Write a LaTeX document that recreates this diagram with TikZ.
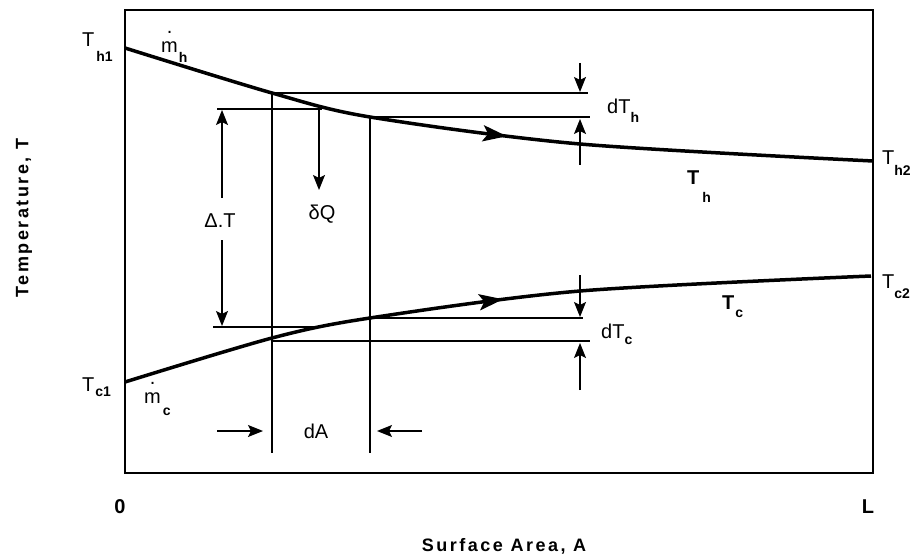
\documentclass[tikz,border=0pt]{standalone}
\usepackage{fontspec}
\setmainfont{Liberation Sans}
\usetikzlibrary{arrows.meta,decorations.markings}
\newcommand\sbs[2][10pt]{\raisebox{-#1}{\fontsize{14}{14}\selectfont\bfseries #2}}
\newcommand\mdot{\ooalign{m\cr\hidewidth\raisebox{19pt}{.}\hidewidth\cr}}
\begin{document}
\begin{tikzpicture}[x=1pt,y=-1pt,
  frame/.style={line width=1.8pt},
  fine/.style={line width=1.3pt},
  curveline/.style={line width=3.5pt, line join=round},
  arr/.style={fine, -{Stealth[length=15pt,width=12pt,inset=3pt]}},
  lab/.style={inner sep=0pt, font=\fontsize{20}{20}\selectfont},
  axis/.style={inner sep=0pt, font=\fontsize{18}{18}\selectfont\bfseries\addfontfeatures{LetterSpace=14}},
  flowmark/.style={postaction=decorate, decoration={markings, mark=at position #1 with {\arrow{Stealth[length=24pt,width=16pt,inset=5pt]}}}}
]
\useasboundingbox (0,0) rectangle (919,559);

% frame
\coordinate (fnw) at (125,10);
\coordinate (fse) at (873,473);
\draw[frame] (fnw) rectangle (fse);

% curves
\draw[curveline, flowmark=393pt] plot[smooth] coordinates {(125,48) (272,93) (370,117) (580,144) (873,161)};
\draw[curveline, flowmark=388pt] plot[smooth] coordinates {(125,382) (272,338) (370,318) (580,291) (871,276)};

% key points
\coordinate (h1) at (272,93);
\coordinate (h2) at (370,117);
\coordinate (c1) at (272,338);
\coordinate (c2) at (370,318);
\coordinate (hm) at (322,109);
\coordinate (cm) at (320,327);

% vertical element lines
\coordinate (v1b) at (272,453);
\coordinate (v2b) at (370,453);
\draw[fine] (h1) -- (v1b);
\draw[fine] (h2) -- (v2b);

% horizontal guide lines
\coordinate (dth1) at (588,93);
\coordinate (dth2) at (590,117);
\coordinate (dtc1) at (583,318);
\coordinate (dtc2) at (590,341);
\coordinate (c1l) at (272,341);
\coordinate (dlt) at (217,109);
\coordinate (dlb) at (213,327);
\draw[fine] (h1) -- (dth1);
\draw[fine] (h2) -- (dth2);
\draw[fine] (c2) -- (dtc1);
\draw[fine] (c1l) -- (dtc2);
\draw[fine] (dlt) -- (hm);
\draw[fine] (dlb) -- (cm);

% delta T arrows
\node[lab] (dT) at (220,221) {Δ.T};
\coordinate (dTup) at (222,198);
\coordinate (dTupE) at (222,110);
\coordinate (dTdn) at (222,240);
\coordinate (dTdnE) at (222,326);
\draw[arr] (dTup) -- (dTupE);
\draw[arr] (dTdn) -- (dTdnE);

% delta Q
\coordinate (qs) at (319,109);
\coordinate (qe) at (319,190);
\draw[arr] (qs) -- (qe);
\node[lab] (dQ) at (322,214) {δQ};

% dA
\node[lab] (dA) at (316,431) {dA};
\coordinate (a1s) at (217,431);
\coordinate (a1e) at (263,431);
\coordinate (a2s) at (422,431);
\coordinate (a2e) at (377,431);
\draw[arr] (a1s) -- (a1e);
\draw[arr] (a2s) -- (a2e);

% dT arrows
\coordinate (t1s) at (580,63);
\coordinate (t1e) at (580,92);
\coordinate (t2s) at (580,165);
\coordinate (t2e) at (580,119);
\coordinate (t3s) at (580,275);
\coordinate (t3e) at (580,317);
\coordinate (t4s) at (580,390);
\coordinate (t4e) at (580,343);
\draw[arr] (t1s) -- (t1e);
\draw[arr] (t2s) -- (t2e);
\draw[arr] (t3s) -- (t3e);
\draw[arr] (t4s) -- (t4e);

% labels
\node[lab, anchor=base west] (Th1) at (82,47) {T\kern2pt\sbs[15pt]{h1}};
\node[lab, anchor=base west] (mh) at (161,53) {\mdot\kern1pt\sbs{h}};
\node[lab, anchor=base west] (Tc1) at (82,391) {T\kern1pt\sbs[5pt]{c1}};
\node[lab, anchor=base west] (mc) at (144,403) {\mdot\kern2pt\sbs[12pt]{c}};
\node[lab, anchor=base west] (Th2) at (882,165) {T\sbs[11pt]{h2}};
\node[lab, anchor=base west] (Tc2) at (882,288) {T\sbs[10pt]{c2}};
\node[lab, anchor=base west] (Th) at (687,185) {\bfseries T\kern3pt\sbs[18pt]{h}};
\node[lab, anchor=base west] (Tc) at (722,309) {\bfseries T\kern1pt\sbs[8pt]{c}};
\node[lab, anchor=base west] (dTh) at (607,114) {dT\sbs[9pt]{h}};
\node[lab, anchor=base west] (dTc) at (601,338) {dT\sbs[6pt]{c}};

% axes
\node[inner sep=0pt, font=\fontsize{20}{20}\selectfont\bfseries] (zero) at (120,507) {0};
\node[inner sep=0pt, font=\fontsize{20}{20}\selectfont\bfseries] (ell) at (868,507) {L};
\node[axis] (xlab) at (504,546) {Surface Area, A};
\node[axis, rotate=90] (ylab) at (24,218) {Temperature, T};
\end{tikzpicture}
\end{document}
